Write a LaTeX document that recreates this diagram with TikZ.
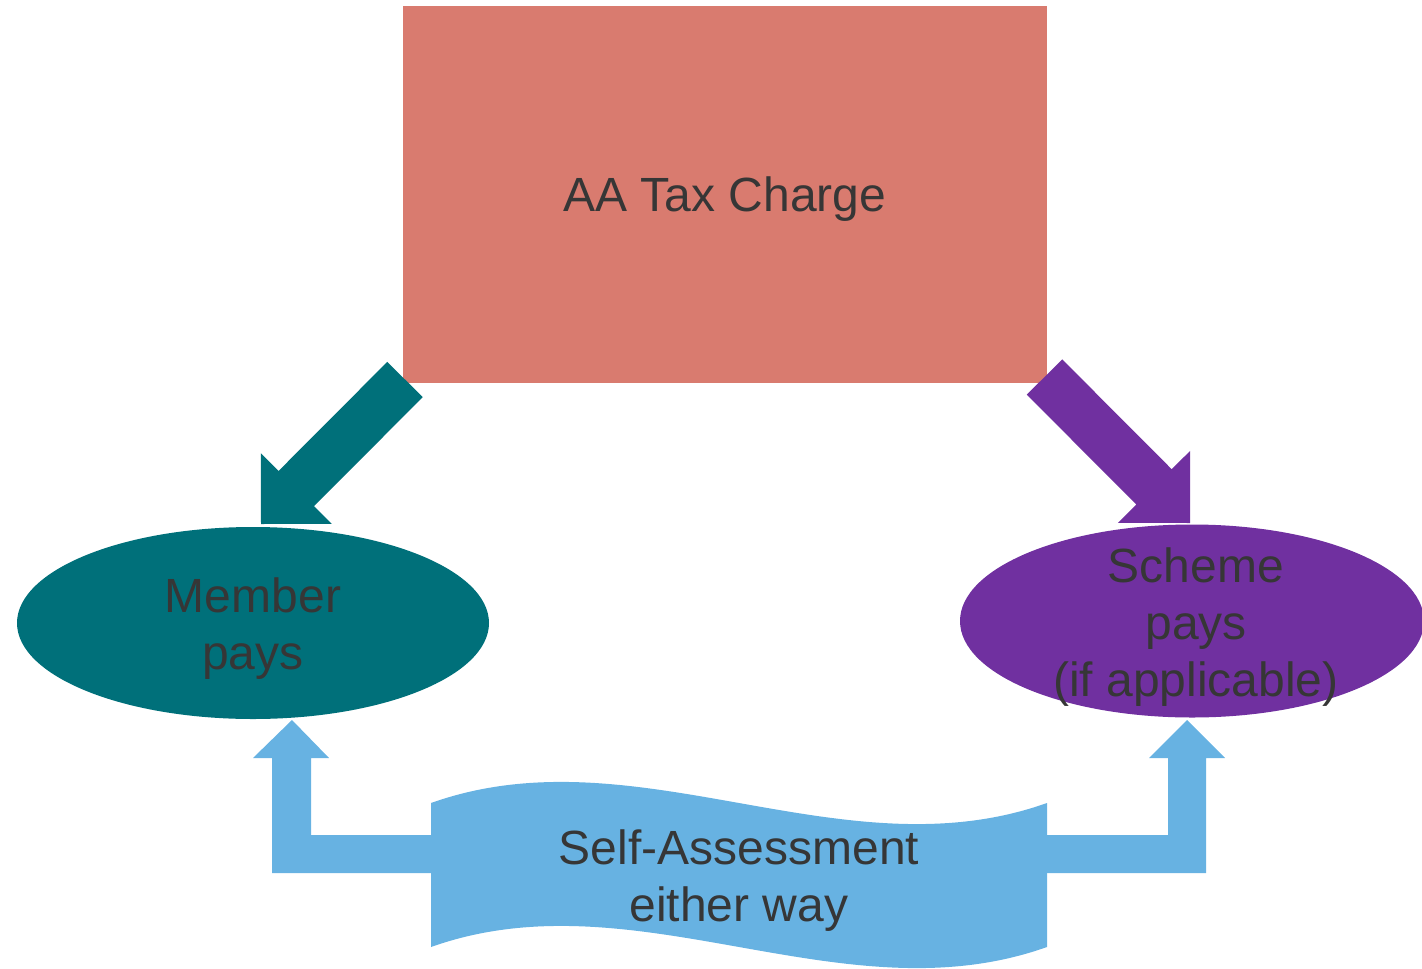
\documentclass[tikz,border=0pt]{standalone}
\usepackage{fontspec}
\setmainfont{Liberation Sans}
\usetikzlibrary{calc,shapes.geometric}

\definecolor{chargefill}{HTML}{D97B6F}
\definecolor{memberfill}{HTML}{00707A}
\definecolor{schemefill}{HTML}{7030A0}
\definecolor{safill}{HTML}{67B2E2}
\definecolor{labeltext}{HTML}{363636}

% block arrow from #1 (tail centre) to #2 (tip): #3 shaft half width,
% #4 head half width, #5 head length, #6 colour
\newcommand\bkarrow[6]{%
  \coordinate (bk-h) at ($(#2)!#5!(#1)$);
  \fill[#6] ($(#1)!#3!90:(#2)$) -- ($(bk-h)!#3!-90:(#1)$) -- ($(bk-h)!#4!-90:(#1)$)
    -- (#2) -- ($(bk-h)!#4!90:(#1)$) -- ($(bk-h)!#3!90:(#1)$) -- ($(#1)!#3!-90:(#2)$) -- cycle;}

\begin{document}
\begin{tikzpicture}[x=1pt,y=-1pt,
  lbl/.style={text=labeltext,font=\fontsize{48}{57}\selectfont,align=center,inner sep=0pt},
  blob/.style={ellipse,inner sep=0pt}]
\useasboundingbox (0,0) rectangle (1422,969);

% charge box
\node[fill=chargefill,minimum width=644pt,minimum height=377pt,inner sep=0pt] (charge) at (725,194.5) {};
\node[lbl] at ($(charge.center)+(0,5)$) {AA Tax Charge};

% payer ellipses
\node[blob,fill=memberfill,minimum width=472pt,minimum height=192pt] (member) at (253,623) {};
\node[lbl] at ($(member.center)+(0,6)$) {Member\\pays};
\node[blob,fill=schemefill,minimum width=464pt,minimum height=193pt] (scheme) at (1192,621) {};
\node[lbl] at (1196,627) {Scheme\\pays\\(if applicable)};

% diagonal block arrows from the charge box
\coordinate (mtail) at (405,379.5);
\coordinate (mtip) at (261,524);
\bkarrow{mtail}{mtip}{25pt}{50pt}{50pt}{memberfill}
\coordinate (stail) at (1044.5,377);
\coordinate (stip) at (1190,523);
\bkarrow{stail}{stip}{25pt}{51pt}{51pt}{schemefill}

% bent arrows up to the ellipses
\coordinate (ltip) at (292,720);
\coordinate (rtip) at (1187,720);
\fill[safill] (440,835) -- (311,835) -- (311,758) -- (329,758) -- (ltip) -- (253,758)
  -- (272,758) -- (272,873) -- (440,873) -- cycle;
\fill[safill] (1040,835) -- (1168,835) -- (1168,758) -- (1149,758) -- (rtip) -- (1225,758)
  -- (1206,758) -- (1206,873) -- (1040,873) -- cycle;

% wave banner
\fill[safill] (431,803) .. controls (636,730) and (842,876) .. (1047,803)
  -- (1047,947) .. controls (842,1020) and (636,874) .. (431,947) -- cycle;
\node[lbl] (sa) at (739,881) {Self-Assessment\\either way};
\end{tikzpicture}
\end{document}
